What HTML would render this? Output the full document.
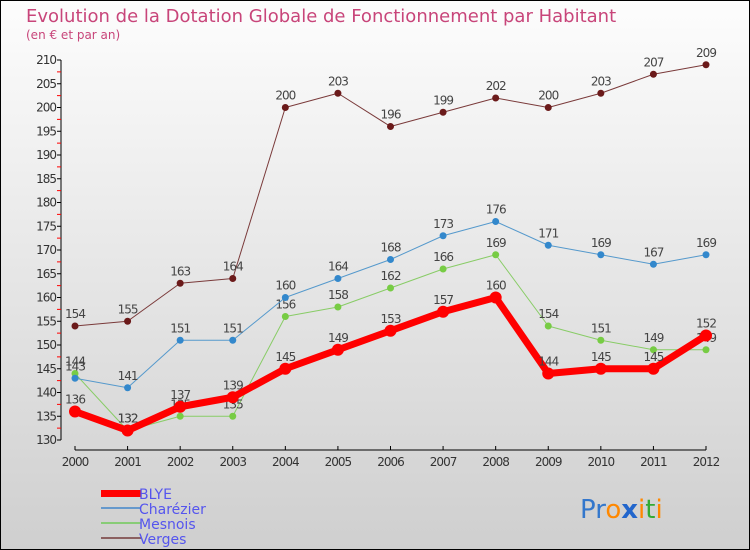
<!DOCTYPE html>
<html><head><meta charset="utf-8"><style>
body{margin:0;width:750px;height:550px;overflow:hidden}
svg{display:block;font-family:"DejaVu Sans","Liberation Sans",sans-serif}
</style></head><body>
<svg id="c" width="750" height="550">
<defs><linearGradient id="bg" x1="0" y1="0" x2="0" y2="1"><stop offset="0" stop-color="#fdfdfd"/><stop offset="1" stop-color="#cfcfcf"/></linearGradient></defs>
<rect x="0.5" y="0.5" width="749" height="549" fill="url(#bg)" stroke="#000"/>
<text x="26" y="22" font-size="18" fill="#c8457a">Evolution de la Dotation Globale de Fonctionnement par Habitant</text>
<text x="26" y="39" font-size="12" fill="#c8457a">(en € et par an)</text>
<g id="axes"></g><g id="series"></g>
<g>
<rect x="101" y="490" width="40" height="7" fill="#f00"/>
<text x="139" y="499" font-size="14" fill="#5555ee">BLYE</text>
<rect x="101" y="507" width="40" height="2" fill="#6699cc"/>
<text x="139" y="514" font-size="14" fill="#5555ee">Charézier</text>
<rect x="101" y="522" width="40" height="2" fill="#88cc77"/>
<text x="139" y="529" font-size="14" fill="#5555ee">Mesnois</text>
<rect x="101" y="537" width="40" height="2" fill="#8b6060"/>
<text x="139" y="544" font-size="14" fill="#5555ee">Verges</text>
</g>
<text x="580" y="518" font-size="26"><tspan fill="#3377cc">Pr</tspan><tspan fill="#ff8800">o</tspan><tspan fill="#2266cc" font-weight="bold">x</tspan><tspan fill="#ff8800">i</tspan><tspan fill="#33aa33">t</tspan><tspan fill="#ff8800">i</tspan></text>
</svg>
<script>
const years=[2000,2001,2002,2003,2004,2005,2006,2007,2008,2009,2010,2011,2012];
const blye=[136,132,137,139,145,149,153,157,160,144,145,145,152];
const charezier=[143,141,151,151,160,164,168,173,176,171,169,167,169];
const mesnois=[144,132,135,135,156,158,162,166,169,154,151,149,149];
const verges=[154,155,163,164,200,203,196,199,202,200,203,207,209];
const yTicks=[130,135,140,145,150,155,160,165,170,175,180,185,190,195,200,205,210];
const NS="http://www.w3.org/2000/svg";
const x=i=>75+i*(706-75)/(years.length-1);
const y=v=>440-(v-130)*4.75;
function el(t,a,p){const e=document.createElementNS(NS,t);for(const k in a)e.setAttribute(k,a[k]);p.appendChild(e);return e;}
const ax=document.getElementById('axes');
let l=el('line',{x1:61,y1:y(210),x2:61,y2:y(130),stroke:'#000'},ax);


l=el('line',{x1:x(0),y1:450,x2:x(12),y2:450,stroke:'#000'},ax);


yTicks.forEach((v,i)=>{
 el('line',{x1:57,y1:y(v),x2:61,y2:y(v),stroke:'#000'},ax);
 if(i<yTicks.length-1)el('line',{x1:57,y1:y(v+2.5),x2:61,y2:y(v+2.5),stroke:'#f00'},ax);
 const t=el('text',{x:56,y:y(v)+4,'font-size':12,fill:'#333','text-anchor':'end','letter-spacing':'-1'},ax);
 t.textContent=v;
 
 
});
years.forEach((yr,i)=>{
 el('line',{x1:x(i),y1:446,x2:x(i),y2:450,stroke:'#000'},ax);
 const t=el('text',{x:x(i),y:466,'font-size':12,fill:'#333','text-anchor':'middle','letter-spacing':'-1'},ax);
 t.textContent=yr;
 
 
});
const sg=document.getElementById('series');
function draw(name,vals,color,dot,w,r){
 const g=el('g',{},sg);
 
 
 const p=el('polyline',{points:vals.map((v,i)=>x(i)+','+y(v)).join(' '),fill:'none',stroke:color,'stroke-width':w,'stroke-linejoin':'round'},g);
 
 
 vals.forEach((v,i)=>{
  const c=el('circle',{cx:x(i),cy:y(v),r:r,fill:dot},g);
  
  
  const t=el('text',{x:x(i),y:y(v)-8,'font-size':12,fill:'#444','text-anchor':'middle','letter-spacing':'-1'},g);
  t.textContent=v;
  
  
 });
}
draw('verges',verges,'#7a3a3a','#6b1a1a',1,3.5);
draw('mesnois',mesnois,'#88cc66','#77cc44',1,3.5);
draw('charezier',charezier,'#5599cc','#3388cc',1,3.5);
draw('blye',blye,'#ff0000','#ff0000',7,6);
</script>
</body></html>
